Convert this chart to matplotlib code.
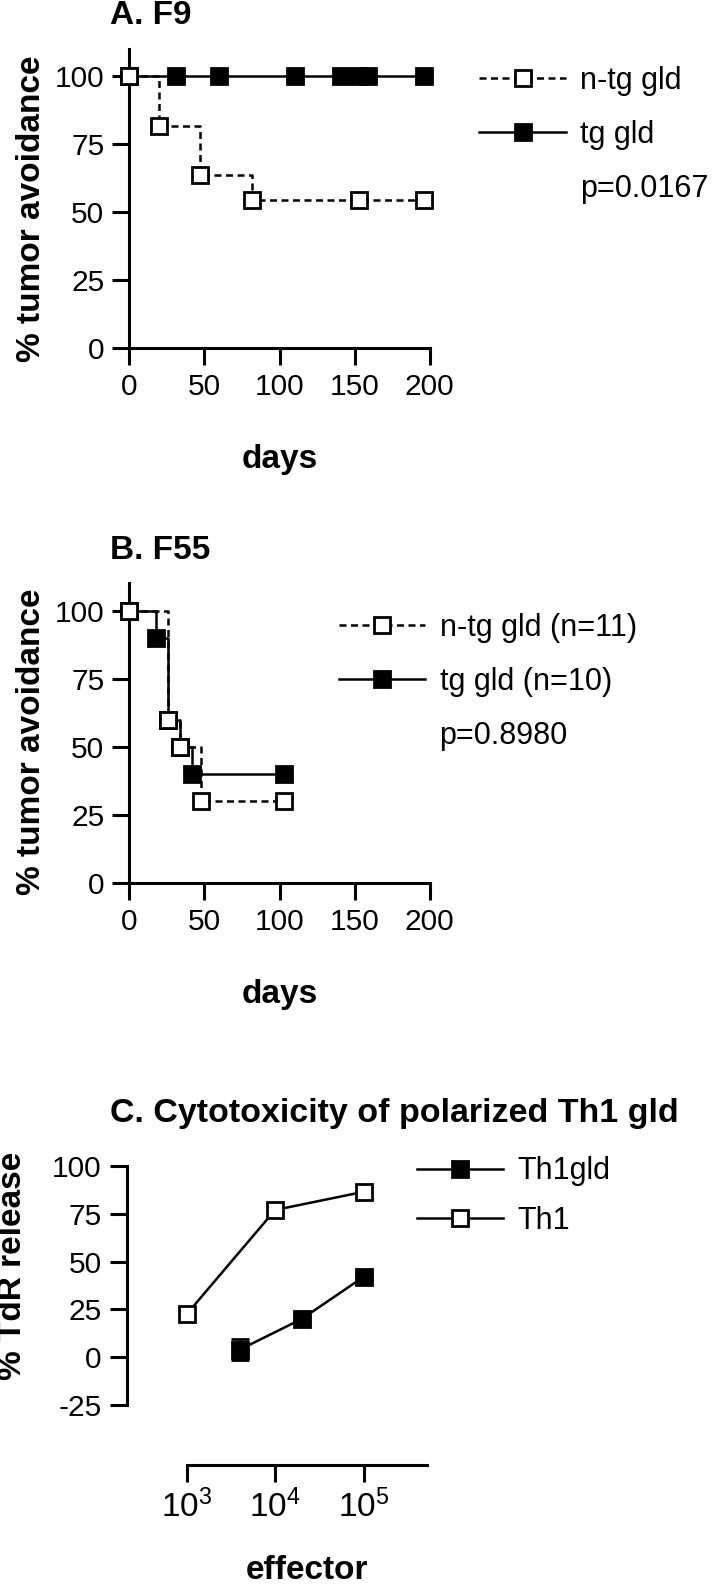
"""Three-panel figure: tumor avoidance curves (F9, F55) and Th1 cytotoxicity."""

import matplotlib

matplotlib.use("Agg")
import matplotlib.pyplot as plt
from matplotlib.lines import Line2D
from matplotlib.ticker import NullLocator

# panel A: F9
a_ntg_days = [0, 20, 47, 82, 153, 196]
a_ntg_pct = [100, 81.8, 63.6, 54.5, 54.5, 54.5]
a_tg_days = [0, 31, 60, 110, 141, 153, 159, 196]
a_tg_pct = [100, 100, 100, 100, 100, 100, 100, 100]

# panel B: F55
b_ntg_days = [0, 26, 34, 48, 103]
b_ntg_pct = [100, 60, 50, 30, 30]
b_tg_days = [0, 18, 26, 34, 42, 103]
b_tg_pct = [100, 90, 60, 50, 40, 40]

# panel C: cytotoxicity
th1gld_effector = [4e3, 2e4, 1e5]
th1gld_release = [4, 20, 42]
th1gld_err = [5.5, 1.0, 1.0]
th1_effector = [1e3, 1e4, 1e5]
th1_release = [22.5, 77, 86.5]

W, H = 714, 1586
TICK_FS = 21.5
LEG_FS = 22
LAB_FS = 24
LW = 1.8
MS = 12
MEW = 2.0
DASH = (0, (2.8, 1.8))

plt.rcParams.update(
    {
        "font.family": ["Liberation Sans", "DejaVu Sans"],
        "mathtext.fontset": "custom",
        "mathtext.rm": "Liberation Sans",
        "mathtext.it": "Liberation Sans:italic",
        "axes.unicode_minus": False,
        "axes.linewidth": 2.2,
        "xtick.major.size": 12,
        "ytick.major.size": 12,
        "xtick.major.width": 2.2,
        "ytick.major.width": 2.2,
        "xtick.major.pad": 6,
        "ytick.major.pad": 6,
        "xtick.labelsize": TICK_FS,
        "ytick.labelsize": TICK_FS,
    }
)


def box(left, right, top, bottom):
    return [left / W, 1 - bottom / H, (right - left) / W, (bottom - top) / H]


def fx(x):
    return x / W


def fy(y):
    return 1 - y / H


def style(ax):
    ax.spines["top"].set_visible(False)
    ax.spines["right"].set_visible(False)
    ax.tick_params(direction="out")


def km_axes(ax):
    style(ax)
    ax.set_xlim(0, 200)
    ax.set_ylim(0, 110)
    ax.set_xticks([0, 50, 100, 150, 200])
    ax.set_yticks([0, 25, 50, 75, 100])


def km_curve(ax, days, pct, filled, ls):
    ax.step(days, pct, where="post", color="black", lw=LW, ls=ls, clip_on=False, zorder=3)
    ax.plot(
        days, pct, ls="none", marker="s", ms=MS, mew=MEW, mec="black",
        mfc="black" if filled else "white", clip_on=False, zorder=4 if filled else 5,
    )


def handles(kinds):
    out = []
    for filled, ls in kinds:
        out.append(
            Line2D([], [], color="black", lw=LW, ls=ls, marker="s", ms=MS, mew=MEW,
                   mec="black", mfc="black" if filled else "white")
        )
    return out


def add_legend(fig, hs, labels, x, y, spacing):
    fig.legend(
        hs, labels, loc="center left", bbox_to_anchor=(fx(x), fy(y)),
        frameon=False, fontsize=LEG_FS, handlelength=2.83, handletextpad=0.46,
        borderpad=0, borderaxespad=0, labelspacing=spacing, numpoints=1,
    )


fig = plt.figure(figsize=(W / 100, H / 100), dpi=100)
blank = Line2D([], [], ls="none")

# ---- A
ax = fig.add_axes(box(129.3, 429.7, 48.8, 348.3))
km_axes(ax)
km_curve(ax, a_tg_days, a_tg_pct, True, "-")
km_curve(ax, a_ntg_days, a_ntg_pct, False, DASH)
fig.text(fx(110), fy(24), "A. F9", fontsize=LAB_FS, fontweight="bold", va="baseline")
fig.text(fx(32), fy(208.5), "% tumor avoidance", fontsize=LAB_FS, fontweight="bold",
         rotation=90, ha="center", va="center")
fig.text(fx(279.5), fy(468), "days", fontsize=LAB_FS, fontweight="bold", ha="center", va="baseline")
add_legend(fig, handles([(False, DASH), (True, "-")]) + [blank],
           ["n-tg gld", "tg gld", "p=0.0167"], 479.5, 135, 0.78)

# ---- B
ax = fig.add_axes(box(129.3, 429.7, 583.3, 883.3))
km_axes(ax)
km_curve(ax, b_tg_days, b_tg_pct, True, "-")
km_curve(ax, b_ntg_days, b_ntg_pct, False, DASH)
fig.text(fx(110), fy(559), "B. F55", fontsize=LAB_FS, fontweight="bold", va="baseline")
fig.text(fx(32), fy(741.5), "% tumor avoidance", fontsize=LAB_FS, fontweight="bold",
         rotation=90, ha="center", va="center")
fig.text(fx(279.5), fy(1003), "days", fontsize=LAB_FS, fontweight="bold", ha="center", va="baseline")
add_legend(fig, handles([(False, DASH), (True, "-")]) + [blank],
           ["n-tg gld (n=11)", "tg gld (n=10)", "p=0.8980"], 339, 682, 0.78)

# ---- C
ax = fig.add_axes(box(126.7, 427, 1166, 1405))
style(ax)
ax.set_xscale("log")
xmax = 10 ** 5.717
ax.set_xlim(10 ** 2.322, xmax)
ax.set_ylim(-25, 100)
ax.set_yticks([-25, 0, 25, 50, 75, 100])
ax.set_xticks([1e3, 1e4, 1e5])
ax.xaxis.set_minor_locator(NullLocator())
ax.tick_params(axis="x", labelsize=24)
ax.spines["bottom"].set_position(("outward", 43.2))
ax.spines["bottom"].set_bounds(1e3, xmax)
ax.errorbar(th1gld_effector, th1gld_release, yerr=th1gld_err, fmt="none", ecolor="black",
            capsize=6.3, capthick=2, elinewidth=2, clip_on=False, zorder=2)
ax.plot(th1gld_effector, th1gld_release, color="black", lw=LW, marker="s", ms=MS, mew=MEW,
        mec="black", mfc="black", clip_on=False, zorder=3)
ax.plot(th1_effector, th1_release, color="black", lw=LW, marker="s", ms=MS, mew=MEW,
        mec="black", mfc="white", clip_on=False, zorder=4)
fig.text(fx(110), fy(1121.7), "C. Cytotoxicity of polarized Th1 gld", fontsize=24.5,
         fontweight="bold", va="baseline")
fig.text(fx(13), fy(1266), "% TdR release", fontsize=LAB_FS, fontweight="bold",
         rotation=90, ha="center", va="center")
fig.text(fx(307), fy(1579), "effector", fontsize=LAB_FS, fontweight="bold", ha="center", va="baseline")
add_legend(fig, handles([(True, "-"), (False, "-")]), ["Th1gld", "Th1"], 417, 1196, 0.63)

fig.savefig("out.png", dpi=100)
